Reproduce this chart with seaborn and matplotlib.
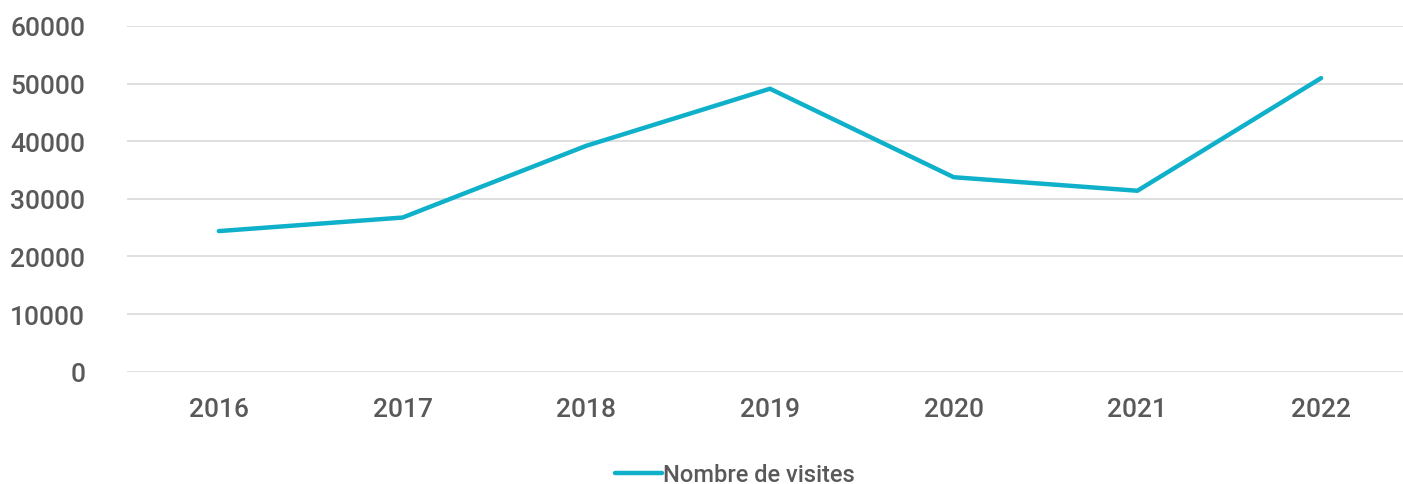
import matplotlib.pyplot as plt
import pandas as pd
import seaborn as sns

YEARS = ["2016", "2017", "2018", "2019", "2020", "2021", "2022"]
VISITS = [24400, 26750, 39200, 49100, 33750, 31400, 50950]
Y_TICKS = [0, 10000, 20000, 30000, 40000, 50000, 60000]

LINE_COLOR = "#0fb0c9"
TEXT_COLOR = "#595959"
GRID_COLOR = "#d9d9d9"

sns.set_theme(style="white")
plt.rcParams["font.family"] = ["Roboto", "DejaVu Sans"]

df = pd.DataFrame({"Année": YEARS, "Nombre de visites": VISITS})

fig = plt.figure(figsize=(14.03, 4.85), dpi=100)
ax = fig.add_axes([0.0905, 0.2315, 0.9166, 0.713])

sns.lineplot(data=df, x="Année", y="Nombre de visites", ax=ax,
             color=LINE_COLOR, linewidth=3.2, sort=False, legend=False)

ax.set_ylim(0, 60000)
ax.set_xlim(-0.5, len(YEARS) - 0.5)
ax.set_yticks(Y_TICKS)
ax.set_yticklabels([str(v) for v in Y_TICKS])
ax.yaxis.grid(True, color=GRID_COLOR, linewidth=1.2)
ax.set_axisbelow(True)
for side in ["top", "right", "left", "bottom"]:
    ax.spines[side].set_visible(False)
ax.tick_params(axis="both", length=0, labelsize=19, labelcolor=TEXT_COLOR)
for lbl in ax.get_xticklabels() + ax.get_yticklabels():
    lbl.set_fontweight("medium")
ax.tick_params(axis="y", pad=30)
ax.tick_params(axis="x", pad=18)
ax.set_xlabel("")
ax.set_ylabel("")

handle = plt.Line2D([], [], color=LINE_COLOR, linewidth=3.2)
leg = fig.legend([handle], ["Nombre de visites"], loc="center",
                 bbox_to_anchor=(0.524, 0.02), frameon=False,
                 fontsize=17, handlelength=2.0, handletextpad=0.05)
for t in leg.get_texts():
    t.set_color(TEXT_COLOR)
    t.set_fontweight("medium")

fig.savefig("out.png", dpi=100)
